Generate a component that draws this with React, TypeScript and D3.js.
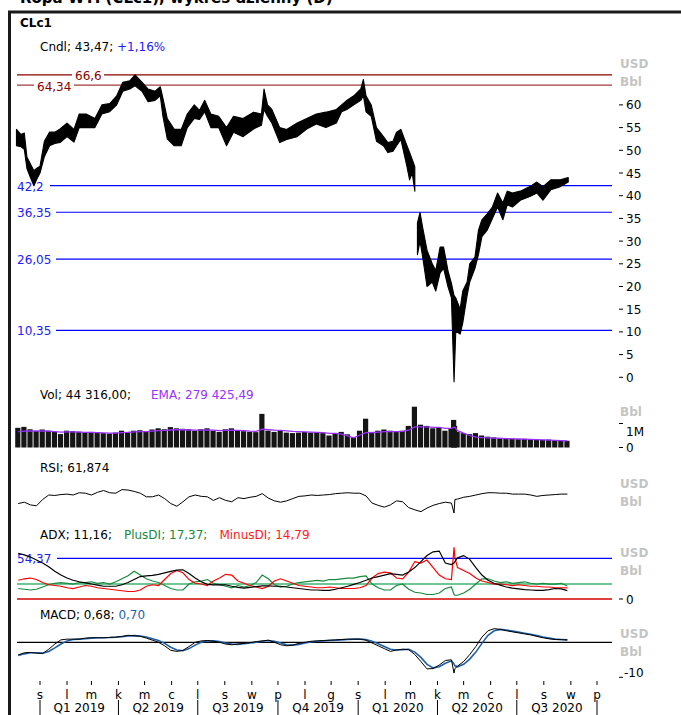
import React from 'react';
import * as d3 from 'd3';

// ---------------- DATA ----------------
const priceDates: (string | null)[] = [
  '2018-12-05','2018-12-10','2018-12-14','2018-12-17','2018-12-21','2018-12-25','2018-12-28',
  '2019-01-01','2019-01-06','2019-01-12','2019-01-18','2019-01-24','2019-02-01','2019-02-09',
  '2019-02-15','2019-02-23','2019-03-05','2019-03-13','2019-03-22','2019-03-30','2019-04-06',
  '2019-04-14','2019-04-20','2019-04-28','2019-05-05','2019-05-13','2019-05-19','2019-05-22',
  '2019-05-27','2019-06-04','2019-06-12','2019-06-19','2019-06-27','2019-07-03','2019-07-09',
  '2019-07-16','2019-07-25','2019-08-03','2019-08-11','2019-08-22','2019-09-03','2019-09-12',
  '2019-09-15','2019-09-19','2019-09-24','2019-10-03','2019-10-11','2019-10-23','2019-11-03',
  '2019-11-14','2019-11-25','2019-12-07','2019-12-13','2019-12-19','2019-12-27','2020-01-04',
  '2020-01-07','2020-01-10','2020-01-16','2020-01-22','2020-01-30','2020-02-04','2020-02-10',
  '2020-02-14','2020-02-19','2020-02-26','2020-02-29','2020-03-03','2020-03-06',
  null,
  '2020-03-09','2020-03-12','2020-03-15','2020-03-20','2020-03-26','2020-03-30','2020-04-04',
  '2020-04-08','2020-04-13','2020-04-17','2020-04-20','2020-04-22','2020-04-27','2020-04-30',
  '2020-05-05','2020-05-08','2020-05-14','2020-05-18','2020-05-22','2020-05-28','2020-06-03',
  '2020-06-09','2020-06-15','2020-06-20','2020-06-26','2020-07-05','2020-07-16','2020-07-24',
  '2020-07-31','2020-08-09','2020-08-20','2020-08-29'
];
const priceHigh: (number | null)[] = [
  54.6,53.5,53.8,48.5,47.0,45.5,46.0,
  46.5,52.0,54.0,54.0,54.7,56.0,54.6,
  58.0,58.0,57.0,60.0,60.3,62.0,65.0,
  65.3,66.6,65.0,63.5,63.0,64.0,61.5,
  57.0,54.6,54.6,58.0,60.0,58.8,61.0,
  58.0,57.5,55.0,57.5,57.0,58.4,58.0,
  63.5,60.0,59.0,55.0,54.6,56.0,57.0,
  58.0,58.4,59.0,60.0,61.0,62.0,63.5,
  65.6,62.0,60.0,55.0,53.0,51.7,52.0,
  54.0,54.6,51.0,49.5,48.0,46.4,
  null,
  34.0,36.3,33.0,28.0,25.0,23.5,28.7,
  28.7,23.5,20.7,18.0,17.5,15.0,19.0,
  21.0,25.0,26.5,32.4,34.7,36.0,37.5,
  40.6,38.4,41.0,40.6,41.0,42.0,43.0,
  42.0,43.5,43.5,44.0
];
const priceLow: (number | null)[] = [
  51.0,50.8,50.2,46.0,44.0,42.2,43.5,
  45.0,48.6,51.0,51.5,51.7,53.0,51.8,
  55.0,55.0,55.0,58.0,58.5,60.0,63.0,
  63.5,64.2,63.0,60.7,61.0,62.0,57.5,
  52.5,51.0,51.0,55.0,57.0,56.8,58.5,
  55.0,55.0,51.0,54.0,53.0,54.7,55.5,
  59.0,57.5,56.0,51.7,52.4,53.0,54.7,
  55.8,55.0,56.0,58.5,59.0,60.0,61.0,
  62.0,58.5,57.5,52.0,51.0,49.5,49.8,
  51.0,52.4,46.4,43.5,45.0,41.0,
  null,
  27.0,30.0,26.5,20.0,21.0,19.0,23.0,
  24.0,20.0,17.5,-1.0,10.2,9.5,12.0,
  18.0,21.0,24.0,27.0,31.0,32.4,35.0,
  37.5,34.7,38.0,37.5,39.0,39.8,40.6,
  39.0,41.3,42.0,43.0
];

const indDates: string[] = [
  '2018-12-07','2018-12-14','2018-12-21','2018-12-28',
  '2019-01-04','2019-01-11','2019-01-18','2019-01-25','2019-02-01','2019-02-08','2019-02-15','2019-02-22',
  '2019-03-01','2019-03-08','2019-03-15','2019-03-22','2019-03-29','2019-04-05','2019-04-12','2019-04-19',
  '2019-04-26','2019-05-03','2019-05-10','2019-05-17','2019-05-24','2019-05-31','2019-06-07','2019-06-14',
  '2019-06-21','2019-06-28','2019-07-05','2019-07-12','2019-07-19','2019-07-26','2019-08-02','2019-08-09',
  '2019-08-16','2019-08-23','2019-08-30','2019-09-06','2019-09-13','2019-09-20','2019-09-27','2019-10-04',
  '2019-10-11','2019-10-18','2019-10-25','2019-11-01','2019-11-08','2019-11-15','2019-11-22','2019-11-29',
  '2019-12-06','2019-12-13','2019-12-20','2019-12-27',
  '2020-01-03','2020-01-10','2020-01-17','2020-01-24','2020-01-31','2020-02-07','2020-02-14','2020-02-21',
  '2020-02-28','2020-03-06','2020-03-13','2020-03-20','2020-03-27','2020-04-03','2020-04-10','2020-04-17',
  '2020-04-20','2020-04-21',
  '2020-04-24','2020-05-01','2020-05-08','2020-05-15','2020-05-22','2020-05-29','2020-06-05','2020-06-12',
  '2020-06-19','2020-06-26','2020-07-03','2020-07-10','2020-07-17','2020-07-24','2020-07-31','2020-08-07',
  '2020-08-14','2020-08-21','2020-08-28'
];
const volume: number[] = [
  820,860,760,700,
  750,700,660,560,700,680,660,620,
  650,640,600,580,620,700,650,700,
  720,680,750,800,760,850,800,780,
  760,700,760,800,700,650,760,800,
  700,680,650,640,1400,700,650,700,
  620,600,620,650,620,640,600,500,
  600,650,550,420,
  700,1200,650,700,750,700,680,700,
  900,1700,950,900,800,850,700,800,
  1150,900,
  650,600,560,600,500,450,420,400,
  380,370,350,360,340,330,320,330,
  310,300,280
];
const volEma: number[] = [
  660,680,690,680,
  690,680,660,640,650,650,640,630,
  630,620,610,600,600,620,630,650,
  660,660,680,700,710,730,740,740,
  730,720,720,730,720,700,710,720,
  710,700,680,670,760,740,720,710,
  690,670,660,650,640,630,620,590,
  590,560,480,400,
  520,620,620,640,660,660,660,670,
  720,860,860,860,840,840,800,800,
  850,840,
  700,600,500,430,410,400,390,380,
  370,360,355,350,340,330,320,310,
  300,290,280
];
const rsi: number[] = [
  41,44,38,36,
  50,60,59,61,62,60,65,64,
  60,66,70,65,64,72,71,68,
  64,56,56,60,52,41,35,45,
  56,60,57,56,48,54,48,45,
  54,52,55,57,63,53,47,44,
  47,52,57,58,60,59,60,61,
  63,64,65,64,
  64,58,42,37,33,38,47,45,
  32,27,23,31,37,41,44,42,
  20,50,
  51,55,57,60,63,65,65,64,
  64,62,62,62,60,57,59,60,
  61,62,62
];
const adx: number[] = [
  61,59,56,52,
  48,43,37,32,28,25,23,21.5,
  20,18.5,17,17,17,19,22,26,
  30,31,31.5,33,35,37,38.5,39,
  34,28,23,19.5,19,19,19,17,
  15.5,14.5,15.5,16.5,17.5,17.5,17,17,
  16,15,14,13,12,12,11.5,11.5,
  13,15,17,19.5,
  22,25,28,30,32,34,33,32,
  36,42,50,58,63,64,48,46,
  48,50,
  55,58,53,42,32,25,21,18.5,
  16,14.5,13.5,12.5,12,11.5,11.5,12.5,
  14,13.5,11.2
];
const plusDI: number[] = [
  14,13,12,13,
  16,19,21,22,21,20,22,22,
  23,21,22,20,23,27,31,37,
  32,27,24,22,18,14,12,12,
  20,23,24,26,21,19,17,15,
  18,16,18,22,32,27,19,16,
  17,20,22,23,24,25,24,26,
  26,27,28,28,
  30,31,20,15,12,12,18,20,
  13,9,8,6,6,8,14,16,
  6,5,
  5,8,13,20,27,27,24,22,
  23,21,22,23,21,20,21,20,
  20,21,17.4
];
const minusDI: number[] = [
  25,27,28,26,
  22,19,18,17,15,14,16,18,
  17,15,14,13,12,11,10,10,
  12,17,19,18,26,34,38,35,
  26,21,20,18,24,28,33,32,
  24,21,18,16,14,17,24,27,
  24,21,18,17,16,15,15,16,
  15,14,14,14,
  15,18,28,34,36,35,28,27,
  36,50,48,52,42,32,27,26,
  69,55,
  42,38,34,28,24,22,20,20,
  19,18,19,18,17,17,16,16,
  15,15,14.8
];
const macd: number[] = [
  -3.6,-3.0,-2.9,-3.1,
  -3.2,-2.0,-0.5,0.7,0.9,0.9,0.9,1.2,
  1.3,1.3,1.3,1.4,1.5,1.7,2.0,1.9,
  1.7,1.2,0.6,0.0,-1.0,-2.3,-2.6,-2.3,
  -1.2,0.0,0.4,0.5,0.3,0.0,-0.5,-0.7,
  -0.5,-0.3,-0.1,0.2,0.4,0.6,0.0,-0.7,
  -1.0,-0.8,-0.3,0.0,0.3,0.4,0.5,0.6,
  0.7,0.8,0.9,0.9,
  0.9,0.6,-0.2,-1.0,-1.8,-2.6,-2.2,-2.0,
  -2.1,-3.5,-5.5,-7.6,-7.5,-6.5,-5.2,-5.0,
  -8.8,-7.5,
  -6.8,-5.5,-3.5,-1.2,1.5,3.3,3.9,3.7,
  3.3,3.0,2.7,2.4,2.1,1.7,1.3,1.0,
  0.8,0.75,0.68
];
const macdSignal: number[] = [
  -3.8,-3.3,-3.0,-3.0,
  -3.1,-2.6,-1.6,-0.5,0.4,0.8,0.9,1.0,
  1.2,1.3,1.3,1.35,1.45,1.6,1.8,1.9,
  1.8,1.5,1.0,0.5,-0.3,-1.4,-2.2,-2.4,
  -1.8,-0.8,0.0,0.4,0.4,0.2,-0.2,-0.5,
  -0.6,-0.4,-0.2,0.0,0.3,0.5,0.3,-0.2,
  -0.7,-0.8,-0.6,-0.2,0.1,0.3,0.4,0.5,
  0.6,0.7,0.8,0.9,
  0.9,0.8,0.3,-0.4,-1.2,-2.0,-2.2,-2.1,
  -2.0,-2.8,-4.3,-6.3,-7.3,-7.0,-6.0,-5.3,
  -6.2,-6.7,
  -7.0,-6.3,-4.8,-2.8,-0.3,2.0,3.3,3.7,
  3.5,3.2,2.9,2.6,2.3,1.9,1.5,1.2,
  0.9,0.8,0.70
];

const redLevels = [66.6, 64.34];
const blueLevels = [42.2, 36.35, 26.05, 10.35];
const adxLevel = 54.37;
const priceTicks = [0, 5, 10, 15, 20, 25, 30, 35, 40, 45, 50, 55, 60];
const monthStarts = [
  '2019-01-01','2019-02-01','2019-03-01','2019-04-01','2019-05-01','2019-06-01','2019-07-01',
  '2019-08-01','2019-09-01','2019-10-01','2019-11-01','2019-12-01','2020-01-01','2020-02-01',
  '2020-03-01','2020-04-01','2020-05-01','2020-06-01','2020-07-01','2020-08-01','2020-09-01','2020-10-01'
];
const monthLetters = ['s','l','m','k','m','c','l','s','w','p','l','g','s','l','m','k','m','c','l','s','w','p'];
const quarterStarts = ['2019-01-01','2019-04-01','2019-07-01','2019-10-01','2020-01-01','2020-04-01','2020-07-01','2020-10-01'];
const quarterLabels = ['Q1 2019','Q2 2019','Q3 2019','Q4 2019','Q1 2020','Q2 2020','Q3 2020'];

// ---------------- CHART ----------------
const FONT = 'DejaVu Sans, Verdana, sans-serif';
const parse = d3.timeParse('%Y-%m-%d');
const fmt = (v: number) => String(v).replace('.', ',');

export default function App() {
  const x = d3.scaleTime().domain([parse('2019-01-01')!, parse('2020-10-01')!]).range([40, 597]);
  const yP = d3.scaleLinear().domain([0, 60]).range([377.3, 104.9]);
  const yV = d3.scaleLinear().domain([0, 1000]).range([447.5, 423.5]);
  const yR = d3.scaleLinear().domain([0, 100]).range([522, 477]);
  const yA = d3.scaleLinear().domain([0, adxLevel]).range([599, 558.3]);
  const yM = d3.scaleLinear().domain([-10, 0]).range([677.3, 642.3]);

  const L = 17, R = 612;

  const pts = priceDates.map((d, i) => ({ d: d ? parse(d) : null, h: priceHigh[i], l: priceLow[i] }));
  const band = d3.area<any>()
    .defined(p => p.d !== null)
    .x(p => x(p.d))
    .y0(p => yP(p.l))
    .y1(p => yP(p.h))(pts) || '';

  const dates = indDates.map(d => parse(d)!);
  const line = (vals: number[], y: (v: number) => number) =>
    d3.line<number>().x((_, i) => x(dates[i])).y(v => y(v))(vals) || '';

  const gray = '#c4c4c4';
  const txt = (s: string, xx: number, yy: number, fill = '#000', extra: any = {}) => (
    <text x={xx} y={yy} fill={fill} fontSize={12} fontFamily={FONT} {...extra}>{s}</text>
  );

  return (
    <div style={{ position: 'absolute', left: 0, top: 0 }}>
      <svg width={681} height={715} style={{ display: 'block', background: '#fff' }}>
        {/* title, cut at the top edge as in the source */}
        <text x={20} y={3} fontSize={15} fontWeight="bold" fontFamily={FONT} fill="#000">Ropa WTI (CLc1), wykres dzienny (D)</text>
        {/* frame */}
        <line x1={8} x2={681} y1={12} y2={12} stroke="#1a1a1a" strokeWidth={3} />
        <line x1={9.5} x2={9.5} y1={11} y2={715} stroke="#1a1a1a" strokeWidth={3} />

        {txt('CLc1', 20, 27, '#000', { fontWeight: 'bold' })}
        <text x={40} y={51} fontSize={12} fontFamily={FONT} fill="#000">
          Cndl; 43,47; <tspan fill="#2020ff">+1,16%</tspan>
        </text>

        {/* price levels */}
        {redLevels.map((v, i) => (
          <line key={'r' + i} x1={L} x2={R} y1={yP(v)} y2={yP(v)} stroke={i === 0 ? '#8b0000' : '#a03c3c'} strokeWidth={1.2} />
        ))}
        {blueLevels.map((v, i) => (
          <line key={'b' + i} x1={i === 0 ? 50 : 56} x2={R} y1={yP(v)} y2={yP(v)} stroke="#0000ff" strokeWidth={1.2} />
        ))}
        <rect x={72} y={yP(66.6) - 6} width={32} height={13} fill="#fff" />
        {txt(fmt(66.6), 75, yP(66.6) + 5, '#8b0000')}
        <rect x={34} y={yP(64.34) - 6} width={40} height={13} fill="#fff" />
        {txt(fmt(64.34), 37, yP(64.34) + 6, '#8b0000')}
        {blueLevels.map((v, i) => (
          <g key={'bl' + i}>{txt(fmt(v), 17, yP(v) + 5, '#2020ff')}</g>
        ))}

        {/* price band */}
        <path d={band} fill="#000" stroke="#000" strokeWidth={1.1} strokeLinejoin="round" />

        {/* price axis */}
        {txt('USD', 620, 68, gray, { fontWeight: 'bold' })}
        {txt('Bbl', 620, 86, gray, { fontWeight: 'bold' })}
        {priceTicks.map(t => (
          <g key={'pt' + t}>
            <line x1={619} x2={623} y1={yP(t)} y2={yP(t)} stroke="#000" />
            {txt(String(t), 626, yP(t) + 4.5)}
          </g>
        ))}

        {/* volume */}
        {txt('Vol; 44 316,00;', 40, 399)}
        {txt('EMA; 279 425,49', 151, 399, '#9b30ff')}
        {volume.map((v, i) => (
          <rect key={'v' + i} x={x(dates[i]) - 3} width={5.2} y={yV(v)} height={yV(0) - yV(v)} fill="#151515" />
        ))}
        <path d={line(volEma, yV)} fill="none" stroke="#9b30ff" strokeWidth={1.3} />
        {txt('Bbl', 620, 416, gray, { fontWeight: 'bold' })}
        <line x1={619} x2={623} y1={yV(1000)} y2={yV(1000)} stroke="#000" />
        {txt('1M', 626, 435.5)}
        <line x1={619} x2={623} y1={yV(0)} y2={yV(0)} stroke="#000" />
        {txt('0', 626, 451.5)}

        {/* RSI */}
        {txt('RSI; 61,874', 40, 472)}
        <path d={line(rsi, yR)} fill="none" stroke="#000" strokeWidth={1} />
        {txt('USD', 620, 488, gray, { fontWeight: 'bold' })}
        {txt('Bbl', 620, 506, gray, { fontWeight: 'bold' })}

        {/* ADX */}
        <text x={40} y={539} fontSize={12} fontFamily={FONT} fill="#000">
          ADX; 11,16;
          <tspan fill="#17893d" dx={12}>PlusDI; 17,37;</tspan>
          <tspan fill="#ff1a1a" dx={12}>MinusDI; 14,79</tspan>
        </text>
        <line x1={57} x2={R} y1={yA(adxLevel)} y2={yA(adxLevel)} stroke="#0000ff" strokeWidth={1.2} />
        {txt(fmt(adxLevel), 17, yA(adxLevel) + 5, '#2020ff')}
        <line x1={L} x2={R} y1={yA(20)} y2={yA(20)} stroke="#3cb371" strokeWidth={1.5} />
        <line x1={L} x2={R} y1={yA(0)} y2={yA(0)} stroke="#d40000" strokeWidth={1.5} />
        <path d={line(plusDI, yA)} fill="none" stroke="#17893d" strokeWidth={1.2} />
        <path d={line(minusDI, yA)} fill="none" stroke="#ff0000" strokeWidth={1.2} />
        <path d={line(adx, yA)} fill="none" stroke="#000" strokeWidth={1.2} />
        {txt('USD', 620, 557, gray, { fontWeight: 'bold' })}
        {txt('Bbl', 620, 575, gray, { fontWeight: 'bold' })}
        <line x1={619} x2={623} y1={yA(0)} y2={yA(0)} stroke="#000" />
        {txt('0', 626, yA(0) + 4.5)}

        {/* MACD */}
        <text x={40} y={619} fontSize={12} fontFamily={FONT} fill="#000">
          MACD; 0,68; <tspan fill="#1f5fa8">0,70</tspan>
        </text>
        <line x1={L} x2={R} y1={yM(0)} y2={yM(0)} stroke="#000" strokeWidth={1.2} />
        <path d={line(macdSignal, yM)} fill="none" stroke="#1f5fa8" strokeWidth={1.6} />
        <path d={line(macd, yM)} fill="none" stroke="#000" strokeWidth={1} />
        {txt('USD', 620, 638, gray, { fontWeight: 'bold' })}
        {txt('Bbl', 620, 656, gray, { fontWeight: 'bold' })}
        <line x1={619} x2={623} y1={yM(-10)} y2={yM(-10)} stroke="#000" />
        {txt('-10', 624, 677)}

        {/* time axis */}
        {monthStarts.map((m, i) => {
          const xx = x(parse(m)!);
          return (
            <g key={'m' + i}>
              <line x1={xx} x2={xx} y1={681} y2={685} stroke="#000" />
              {txt(monthLetters[i], xx, 699, '#000', { textAnchor: 'middle' })}
            </g>
          );
        })}
        {quarterStarts.map((q, i) => {
          const xx = x(parse(q)!);
          return <line key={'q' + i} x1={xx} x2={xx} y1={700} y2={715} stroke="#000" />;
        })}
        {quarterLabels.map((q, i) => {
          const xm = (x(parse(quarterStarts[i])!) + x(parse(quarterStarts[i + 1])!)) / 2;
          return <g key={'ql' + i}>{txt(q, xm, 712, '#000', { textAnchor: 'middle' })}</g>;
        })}
      </svg>
    </div>
  );
}
